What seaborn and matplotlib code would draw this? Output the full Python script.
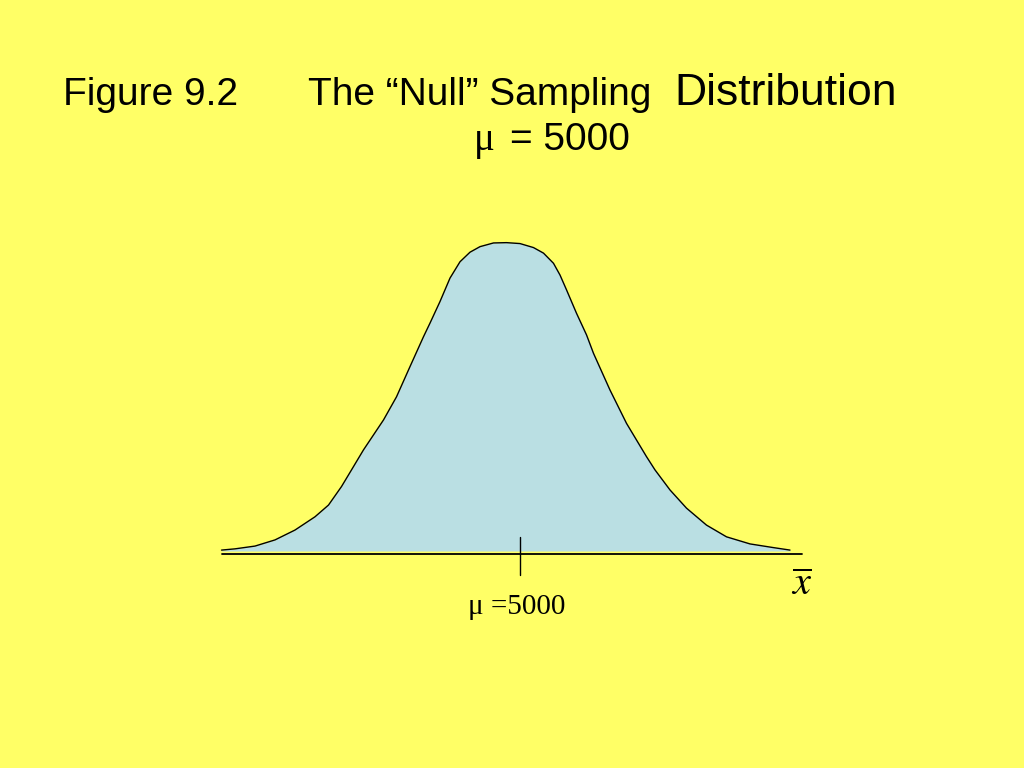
# Figure 9.2 - the "null" sampling distribution, mu = 5000

import matplotlib.pyplot as plt
import seaborn as sns

# curve: sample mean values and relative density
xbar_values = [4403, 4430, 4470, 4510, 4550, 4590, 4617, 4643, 4663, 4687,
               4727, 4753, 4780, 4807, 4820, 4840, 4860, 4880, 4900, 4920,
               4947, 4973, 5000, 5027, 5047, 5067, 5080, 5093, 5113, 5133,
               5147, 5180, 5213, 5253, 5270, 5300, 5333, 5373, 5413, 5460,
               5507, 5540]
density = [0.003, 0.007, 0.016, 0.036, 0.068, 0.111, 0.149, 0.209, 0.263, 0.328,
           0.425, 0.500, 0.598, 0.695, 0.739, 0.809, 0.885, 0.938, 0.969, 0.987,
           0.999, 1.000, 0.997, 0.984, 0.966, 0.933, 0.895, 0.847, 0.771, 0.701,
           0.641, 0.522, 0.414, 0.306, 0.263, 0.198, 0.139, 0.084, 0.046, 0.023,
           0.011, 0.003]
mu = 5000
axis_range = [4403, 5563]

bg = "#FFFF66"
fill_color = "#BADFE3"

sns.set_style("white")
plt.rcParams["font.family"] = ["Liberation Sans", "DejaVu Sans"]
plt.rcParams["mathtext.fontset"] = "stix"
plt.rcParams["text.color"] = "black"

fig = plt.figure(figsize=(10.24, 7.68), dpi=100, facecolor=bg)
ax = fig.add_axes([200 / 1024, 1 - 580 / 768, 620 / 1024, 350 / 768])
ax.set_facecolor(bg)

ax.fill_between(xbar_values, 0, density, color=fill_color, lw=0)
sns.lineplot(x=xbar_values, y=density, ax=ax, color="black", lw=1.0,
             solid_joinstyle="round")

# horizontal axis and the tick at mu
ax.plot(axis_range, [-0.0097, -0.0097], color="black", lw=1.3)
ax.plot([mu, mu], [0.045, -0.078], color="black", lw=1.0)

ax.set_xlim(4360, 5600)
ax.set_ylim(-0.094, 1.041)
ax.axis("off")

# titles
fig.text(63 / 1024, 1 - 105 / 768, "Figure 9.2", fontsize=28, va="baseline")
fig.text(308 / 1024, 1 - 105 / 768, "The \u201cNull\u201d Sampling", fontsize=28, va="baseline")
fig.text(674 / 1024, 1 - 105 / 768, "Distribution", fontsize=32, va="baseline")
fig.text(474 / 1024, 1 - 150 / 768, "\u03bc", fontsize=28, va="baseline",
         family=["Liberation Serif", "DejaVu Serif"])
fig.text(510 / 1024, 1 - 150 / 768, "= 5000", fontsize=28, va="baseline")

# axis labels
fig.text(468 / 1024, 1 - 614 / 768, "\u03bc =5000", fontsize=21, va="baseline",
         family=["Liberation Serif", "DejaVu Serif"])
fig.text(791 / 1024, 1 - 595 / 768, r"$\overline{x}$", fontsize=29, va="baseline")

fig.savefig("out.png", dpi=100, facecolor=bg)
